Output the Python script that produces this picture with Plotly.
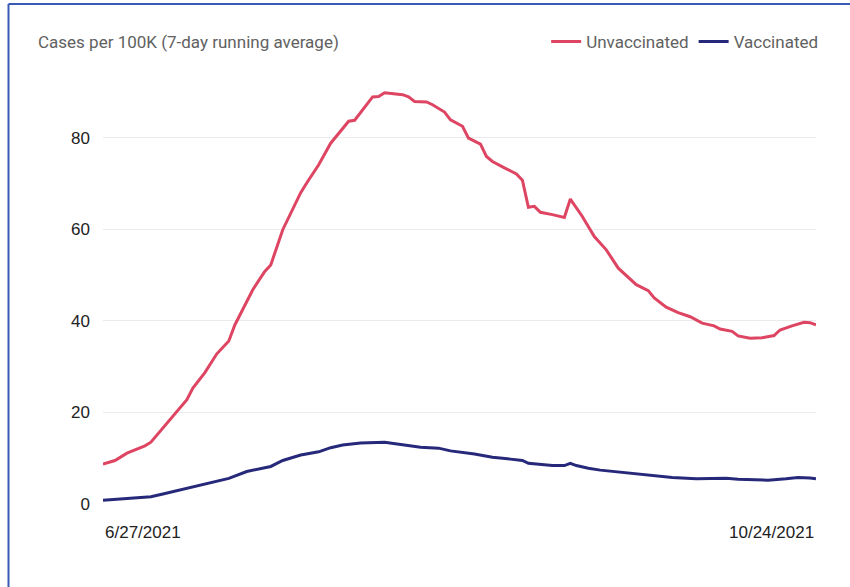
import plotly.graph_objects as go

# Unvaccinated series
unvax_dates = [
    "2021-06-27", "2021-06-29", "2021-07-01", "2021-07-03", "2021-07-04", "2021-07-05",
    "2021-07-07", "2021-07-09", "2021-07-11", "2021-07-12", "2021-07-14", "2021-07-16",
    "2021-07-18", "2021-07-19", "2021-07-21", "2021-07-22", "2021-07-24", "2021-07-25",
    "2021-07-27", "2021-07-30", "2021-07-31", "2021-08-02", "2021-08-04", "2021-08-06",
    "2021-08-07", "2021-08-08", "2021-08-10", "2021-08-11", "2021-08-12", "2021-08-13",
    "2021-08-16", "2021-08-17", "2021-08-18", "2021-08-20", "2021-08-21", "2021-08-23",
    "2021-08-24", "2021-08-26", "2021-08-27", "2021-08-29", "2021-08-30", "2021-08-31",
    "2021-09-02", "2021-09-04", "2021-09-05", "2021-09-06", "2021-09-07", "2021-09-08",
    "2021-09-10", "2021-09-12", "2021-09-13", "2021-09-15", "2021-09-17", "2021-09-19",
    "2021-09-21", "2021-09-24", "2021-09-26", "2021-09-27", "2021-09-29", "2021-10-01",
    "2021-10-03", "2021-10-05", "2021-10-07", "2021-10-08", "2021-10-10", "2021-10-11",
    "2021-10-13", "2021-10-15", "2021-10-17", "2021-10-18", "2021-10-20", "2021-10-22",
    "2021-10-23", "2021-10-24",
]
unvax_values = [
    8.7, 9.5, 11.1, 12.2, 12.7, 13.5,
    16.6, 19.8, 22.8, 25.3, 28.7, 32.8,
    35.6, 39.1, 44.3, 46.8, 50.8, 52.2,
    59.9, 68.0, 70.1, 74.1, 78.8, 82.0,
    83.6, 83.8, 87.2, 88.9, 89.0, 89.8,
    89.4, 88.9, 87.9, 87.8, 87.2, 85.6,
    83.9, 82.5, 79.9, 78.6, 75.9, 74.8,
    73.4, 72.1, 70.7, 64.8, 65.0, 63.7,
    63.2, 62.6, 66.6, 62.8, 58.4, 55.5,
    51.5, 47.9, 46.6, 45.0, 43.0, 41.8,
    40.9, 39.5, 38.9, 38.2, 37.7, 36.7,
    36.2, 36.3, 36.8, 38.0, 38.9, 39.7,
    39.6, 39.1,
]

# Vaccinated series
vax_dates = [
    "2021-06-27", "2021-07-01", "2021-07-05", "2021-07-07", "2021-07-10", "2021-07-13",
    "2021-07-17", "2021-07-18", "2021-07-21", "2021-07-25", "2021-07-27", "2021-07-30",
    "2021-08-02", "2021-08-04", "2021-08-06", "2021-08-09", "2021-08-13", "2021-08-14",
    "2021-08-17", "2021-08-19", "2021-08-22", "2021-08-24", "2021-08-28", "2021-08-31",
    "2021-09-03", "2021-09-05", "2021-09-06", "2021-09-08", "2021-09-10", "2021-09-12",
    "2021-09-13", "2021-09-14", "2021-09-16", "2021-09-18", "2021-09-24", "2021-09-26",
    "2021-09-30", "2021-10-04", "2021-10-09", "2021-10-11", "2021-10-15", "2021-10-16",
    "2021-10-19", "2021-10-21", "2021-10-23", "2021-10-24",
]
vax_values = [
    0.8, 1.2, 1.6, 2.2, 3.1, 4.0,
    5.2, 5.6, 7.1, 8.2, 9.5, 10.7,
    11.4, 12.3, 12.9, 13.3, 13.5, 13.3,
    12.7, 12.4, 12.2, 11.6, 10.9, 10.2,
    9.8, 9.5, 8.9, 8.7, 8.4, 8.4,
    8.9, 8.4, 7.8, 7.4, 6.6, 6.3,
    5.8, 5.5, 5.6, 5.4, 5.2, 5.2,
    5.5, 5.8, 5.7, 5.5,
]

y_ticks = [0, 20, 40, 60, 80]
x_start_label = "6/27/2021"
x_end_label = "10/24/2021"
x_start = "2021-06-27"
x_end = "2021-10-24"

RED = "#DE4562"
NAVY = "#26297A"

fig = go.Figure()
fig.add_trace(go.Scatter(x=unvax_dates, y=unvax_values, mode="lines", name="Unvaccinated",
                         line=dict(color=RED, width=3)))
fig.add_trace(go.Scatter(x=vax_dates, y=vax_values, mode="lines", name="Vaccinated",
                         line=dict(color=NAVY, width=3)))

L, R, T, B = 103, 34, 69, 83
PW, PH = 850 - L - R, 587 - T - B
fig.update_layout(
    width=850, height=587,
    margin=dict(l=L, r=R, t=T, b=B),
    paper_bgcolor="white", plot_bgcolor="white",
    title=dict(text="Cases per 100K (7-day running average)", x=38/850, xanchor="left",
               y=1 - 42/587, yanchor="middle",
               font=dict(family="Roboto", size=17, color="#616161")),
    legend=dict(orientation="h", x=1.01, xanchor="right", y=(504 - 42)/PH,
                yanchor="middle", font=dict(family="Roboto", size=17, color="#616161"),
                bgcolor="rgba(0,0,0,0)", itemwidth=30, tracegroupgap=0),
    xaxis=dict(range=[x_start, x_end], showgrid=False, showticklabels=False, zeroline=False,
               showline=False, ticks=""),
    yaxis=dict(range=[0, 95], tickvals=y_ticks, showgrid=True, gridcolor="#EBEBEB", gridwidth=1,
               zeroline=False, showline=False, ticks="", ticklabelstandoff=12,
               tickfont=dict(family="Liberation Sans", size=17, color="#222")),
    showlegend=True,
    hovermode=False,
)

fig.add_annotation(x=x_start, y=0, xref="x", yref="paper", text=x_start_label, showarrow=False,
                   xanchor="left", yanchor="top", yshift=-17,
                   font=dict(family="Liberation Sans", size=17, color="#222"))
fig.add_annotation(x=x_end, y=0, xref="x", yref="paper", text=x_end_label, showarrow=False,
                   xanchor="right", yanchor="top", yshift=-17,
                   font=dict(family="Liberation Sans", size=17, color="#222"))

# Card border (left and top edges)
fig.add_shape(type="line", xref="paper", yref="paper",
              x0=(8.5 - L)/PW, x1=(8.5 - L)/PW, y0=(504 - 4)/PH, y1=(504 - 600)/PH,
              line=dict(color="#3A5BB5", width=2))
fig.add_shape(type="line", xref="paper", yref="paper",
              x0=(8.5 - L)/PW, x1=(860 - L)/PW, y0=(504 - 4)/PH, y1=(504 - 4)/PH,
              line=dict(color="#3A5BB5", width=2))

fig.write_html("out.html", config={"displayModeBar": False},
               post_script="document.body.style.margin='0px';document.body.style.overflow='hidden';")
